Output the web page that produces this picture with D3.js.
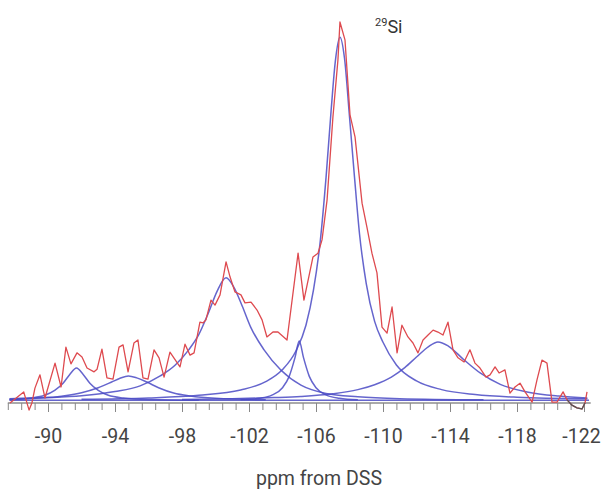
<!DOCTYPE html>
<html>
<head>
<meta charset="utf-8">
<script src="https://cdn.jsdelivr.net/npm/d3@7"></script>
<style>
  body { margin: 0; background: #fff; }
  svg { display: block; }
  .axis text { font-family: Roboto, "Open Sans", sans-serif; font-size: 19.5px; fill: #444; }
  .axis .domain { stroke: #aaa; stroke-width: 2; }
  .axis .tick line { stroke: #888; }
</style>
</head>
<body>
<svg id="chart"></svg>
<script>
// spectre mesuré (ppm, intensité)
var spectrum = [
  [-87.73, -0.5], [-88.55, 2.4], [-88.87, -2.4], [-89.04, -0.5], [-89.22, 3.4],
  [-89.52, 6.9], [-89.82, 0.8], [-90.42, 10.0], [-90.78, 3.7], [-91.07, 14.2],
  [-91.37, 9.8], [-91.73, 12.7], [-92.03, 11.6], [-92.33, 8.7], [-92.75, 7.7],
  [-92.93, 8.4], [-93.22, 13.7], [-93.52, 6.1], [-93.88, 5.8], [-94.24, 14.2],
  [-94.48, 14.8], [-94.78, 7.7], [-95.13, 15.3], [-95.37, 16.1], [-95.67, 6.1],
  [-95.97, 5.8], [-96.33, 13.5], [-96.63, 11.4], [-96.93, 6.3], [-97.28, 12.9],
  [-97.88, 9.0], [-98.18, 15.0], [-98.48, 12.1], [-98.72, 12.7], [-99.07, 20.8],
  [-99.25, 20.6], [-99.43, 21.4], [-99.73, 26.6], [-99.97, 25.3], [-100.27, 28.0],
  [-100.63, 36.7], [-100.87, 32.7], [-101.16, 28.8], [-101.52, 28.0], [-101.76, 25.9],
  [-102.12, 26.1], [-102.48, 24.0], [-102.78, 21.4], [-103.07, 16.9], [-103.43, 18.2],
  [-103.73, 18.2], [-104.27, 16.1], [-104.93, 39.0], [-105.28, 26.6], [-105.82, 38.0],
  [-106.12, 39.0], [-106.36, 42.5], [-106.66, 53.0], [-107.01, 74.9], [-107.31, 90.0],
  [-107.43, 100], [-107.73, 95.3], [-108.03, 75.5], [-108.33, 69.7], [-108.75, 52.2],
  [-109.04, 45.9], [-109.34, 39.0], [-109.64, 33.8], [-109.94, 19.5], [-110.24, 17.9],
  [-110.54, 24.8], [-110.84, 12.7], [-111.13, 20.0], [-111.49, 16.9], [-111.79, 15.3],
  [-112.09, 12.7], [-112.39, 16.1], [-112.69, 17.4], [-112.99, 18.7], [-113.28, 18.2],
  [-113.58, 17.4], [-113.88, 20.8], [-114.18, 13.5], [-114.48, 11.4], [-114.84, 10.3],
  [-115.19, 13.5], [-115.49, 10.0], [-115.79, 8.7], [-116.15, 6.3], [-116.39, 6.9],
  [-116.69, 9.0], [-116.93, 7.4], [-117.28, 8.2], [-117.58, 2.1], [-117.88, 3.7],
  [-118.18, 4.7], [-118.48, 2.4], [-118.90, -0.3], [-119.19, 5.5], [-119.49, 10.8],
  [-119.79, 10.0], [-120.09, -0.3], [-120.39, -0.3], [-120.75, 2.4], [-120.99, 0.3],
  [-121.28, -1.1], [-121.58, -1.8], [-121.88, -2.1], [-122.06, -0.5], [-122.18, 2.4]
];

// bout de résidu (gris foncé) en fin de spectre
var residual = [[-120.99, 0.3], [-121.28, -1.1], [-121.58, -1.8], [-121.88, -2.1], [-122.06, -0.5]];

// composantes de la décomposition
var peak1 = [[-87.7, 0.4], [-89.0, 0.8], [-89.8, 1.5], [-90.4, 2.8], [-90.9, 4.7], [-91.3, 7.0],
  [-91.7, 8.7], [-92.1, 7.0], [-92.5, 4.7], [-93.0, 2.8], [-93.6, 1.5], [-94.5, 0.8], [-96, 0.4], [-99, 0.2]];
var peak2 = [[-87.7, 0.4], [-90.0, 0.9], [-91.0, 1.4], [-92.0, 2.2], [-93.0, 3.5], [-93.8, 5.0],
  [-94.3, 6.0], [-94.8, 6.6], [-95.3, 6.1], [-95.9, 5.0], [-96.6, 3.5], [-97.5, 2.1], [-98.5, 1.3],
  [-100, 0.7], [-103, 0.3]];
var peak3 = [[-87.7, 0.6], [-90.0, 0.9], [-92.0, 1.4], [-94.0, 2.5], [-95.5, 4.0], [-96.7, 6.6],
  [-97.6, 9.5], [-98.4, 13.5], [-99.0, 17.5], [-99.6, 23.5], [-100.1, 29.0], [-100.63, 32.5],
  [-101.1, 30.0], [-101.6, 25.0], [-102.1, 19.5], [-102.9, 13.5], [-103.9, 8.2], [-105.1, 4.2],
  [-106.6, 2.0], [-108.5, 1.1], [-111, 0.6], [-116, 0.3]];
var peak4 = [[-101.5, 0.3], [-102.6, 0.7], [-103.4, 1.6], [-104.0, 3.5], [-104.4, 6.5], [-104.75, 11.5],
  [-105.0, 15.8], [-105.25, 11.5], [-105.6, 6.5], [-106.0, 3.5], [-106.6, 1.6], [-107.4, 0.7], [-108.5, 0.3]];
var peak5 = [[-92.0, 0.45], [-96.0, 0.8], [-99.0, 1.5], [-101.5, 2.9], [-103.0, 5.1], [-104.0, 8.3],
  [-104.8, 13.2], [-105.4, 20.0], [-105.85, 29.3], [-106.25, 42.0], [-106.6, 59], [-106.9, 76.5],
  [-107.15, 89.5], [-107.43, 96], [-107.7, 90.5], [-108.0, 75], [-108.3, 59], [-108.6, 44],
  [-109.0, 31], [-109.5, 21], [-110.0, 15.5], [-110.8, 9.5], [-112.0, 5.3], [-113.5, 3.0],
  [-115.5, 1.7], [-118, 1.0], [-122.2, 0.6]];
var peak6 = [[-98, 0.4], [-101, 0.6], [-103.5, 0.9], [-105.1, 1.2], [-107.0, 1.9], [-108.5, 3.0],
  [-109.5, 4.3], [-110.5, 6.3], [-111.3, 8.8], [-112.0, 11.6], [-112.7, 14.3], [-113.28, 15.6],
  [-113.9, 14.5], [-114.8, 11.0], [-115.8, 7.4], [-117.0, 4.4], [-118.6, 2.4], [-120.5, 1.3], [-122.2, 0.8]];
var baseline = [[-87.7, 0.2], [-122.3, 0.2]];

// graduations
var tickValues = d3.range(-3, 41).map(function(k) { return -90 - 0.8 * k; });
var tickLabels = ["-90", "-94", "-98", "-102", "-106", "-110", "-114", "-118", "-122"];

var svg = d3.select("#chart").attr("width", 602).attr("height", 491);

var x = d3.scaleLinear().domain([-87.6, -122.4]).range([7.8, 590.7]);
var y = d3.scaleLinear().domain([0, 100]).range([401, 22]);

var line = d3.line()
    .x(function(d) { return x(d[0]); })
    .y(function(d) { return y(d[1]); });
var smooth = d3.line()
    .x(function(d) { return x(d[0]); })
    .y(function(d) { return y(d[1]); })
    .curve(d3.curveMonotoneX);

// axe
var axis = d3.axisBottom(x)
    .tickValues(tickValues)
    .tickSize(7)
    .tickPadding(19)
    .tickFormat(function(d, i) {
        var k = i - 3;
        return (k % 5 === 0) ? tickLabels[k / 5] : "";
    });

var gx = svg.append("g")
    .attr("class", "axis")
    .attr("transform", "translate(0,403)")
    .call(axis);
gx.select(".domain").attr("d", "M" + x(-87.6) + ",0H" + x(-122.4));
gx.selectAll(".tick line").attr("y2", function(d, i) { return ((i - 3) % 5 === 0) ? 9 : 7; });
// le dernier libellé touche le bord : on le recale un peu
gx.selectAll(".tick text").filter(function(d, i) { return i === 43; }).attr("dx", -3);

// composantes bleues
[baseline, peak1, peak2, peak3, peak4, peak5, peak6].forEach(function(p) {
    svg.append("path")
        .datum(p)
        .attr("fill", "none")
        .attr("stroke", "#4a4ac4")
        .attr("stroke-opacity", 0.85)
        .attr("stroke-width", 1.5)
        .attr("d", p.length > 2 ? smooth : line);
});

// spectre rouge
svg.append("path")
    .datum(spectrum)
    .attr("fill", "none")
    .attr("stroke", "#de4a4f")
    .attr("stroke-width", 1.3)
    .attr("stroke-linejoin", "round")
    .attr("d", line);

svg.append("path")
    .datum(residual)
    .attr("fill", "none")
    .attr("stroke", "#555")
    .attr("stroke-width", 1.3)
    .attr("d", line);

// titres
var label = svg.append("text")
    .attr("x", 375)
    .attr("y", 33)
    .style("font-family", "Roboto, sans-serif")
    .style("fill", "#333");
label.append("tspan").attr("font-size", "11px").attr("dy", "-7").text("29");
label.append("tspan").attr("font-size", "18px").attr("dy", "7").text("Si");

svg.append("text")
    .attr("x", 319)
    .attr("y", 485)
    .attr("text-anchor", "middle")
    .style("font-family", "Roboto, sans-serif")
    .style("font-size", "19.5px")
    .style("fill", "#444")
    .text("ppm from DSS");
</script>
</body>
</html>
